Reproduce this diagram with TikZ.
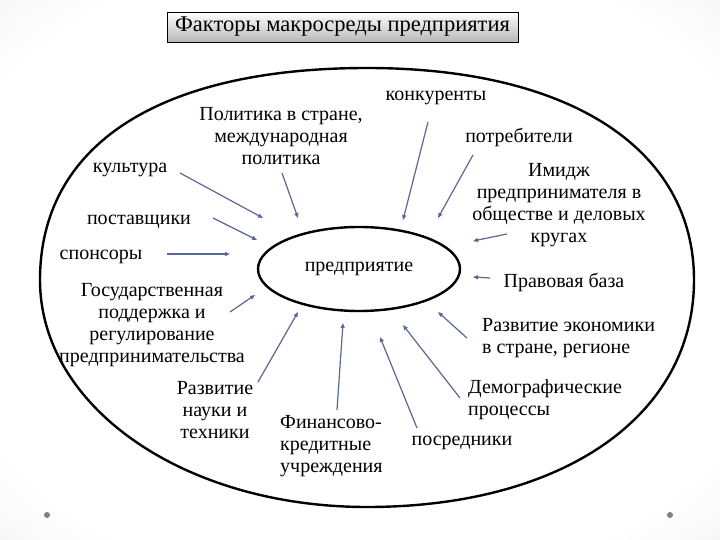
\documentclass[tikz,border=0pt]{standalone}
\usepackage{fontspec}
\setmainfont{Liberation Serif}
\usepackage{tikz}
\usetikzlibrary{arrows.meta, shapes.geometric}
\definecolor{my_arrowblue}{HTML}{5A6894}
\definecolor{my_bggray}{HTML}{C8C8C8}
\definecolor{my_titlegray}{HTML}{B8B8B8}
\pgfdeclareradialshading{my_slide}{\pgfpoint{0bp}{0bp}}{%
  color(0bp)=(white); color(30bp)=(white); color(50bp)=(my_bggray!55); color(71bp)=(my_bggray)}

\begin{document}
\begin{tikzpicture}[
    x=1pt, y=-1pt,
    factor/.style={font=\fontsize{20}{22}\selectfont, inner sep=0pt, align=center},
    factorarrow/.style={-{Triangle[length=5pt,width=4pt]}, my_arrowblue, line width=1.2pt},
]

% ── Slide background ─────────────────────────────────────────────────────────
\shade[shading=my_slide] (0,0) rectangle (720,540);
\useasboundingbox (0,0) rectangle (720,540);
\fill[gray] (47,515) circle (3pt);
\fill[gray] (670,515) circle (3pt);

% ── Title ────────────────────────────────────────────────────────────────────
\node[factor, font=\fontsize{22.5}{25}\selectfont, draw=black, line width=0.8pt,
      top color=white, bottom color=my_titlegray,
      minimum width=351pt, minimum height=30pt] (title) at (342.5,27)
    {Факторы макросреды предприятия};

% ── Environment (hand-drawn oval, fuller at the top) and the firm ────────────
\draw[line width=2.4pt]
    (40,280) .. controls (40,145) and (159,68) .. (367,68)
             .. controls (570,68) and (694,149) .. (694,280)
             .. controls (694,416) and (563,507) .. (367,507)
             .. controls (184,507) and (40,407) .. cycle;
\node[factor, draw, ellipse, line width=2.4pt, minimum width=202pt, minimum height=84pt]
    (predpr) at (359,269) {предприятие};

% ── Factors ──────────────────────────────────────────────────────────────────
\node[factor] (polit)  at (281,136) {Политика в стране,\\международная\\политика};
\node[factor] (kult)   at (130,170) {культура};
\node[factor] (postav) at (139,222) {поставщики};
\node[factor] (spons)  at (101,257) {спонсоры};
\node[factor] (gos)    at (152,325) {Государственная\\поддержка и\\регулирование\\предпринимательства};
\node[factor] (nauki)  at (215,410) {Развитие\\науки и\\техники};
\node[factor, align=left, anchor=west] (fin) at (280,446) {Финансово-\\кредитные\\учреждения};
\node[factor] (posred) at (462,443) {посредники};
\node[factor, align=left, anchor=west] (demogr) at (468,400) {Демографические\\процессы};
\node[factor, align=left, anchor=west] (ekon)   at (482,338) {Развитие экономики\\в стране, регионе};
\node[factor] (pravo)  at (564,282) {Правовая база};
\node[factor] (imidzh) at (559,205) {Имидж\\предпринимателя в\\обществе и деловых\\кругах};
\node[factor] (potreb) at (519,137) {потребители};
\node[factor] (konk)   at (436,98)  {конкуренты};

% ── Arrows towards the firm ──────────────────────────────────────────────────
\foreach \n/\sx/\sy/\ex/\ey in {kult/180/173/263/218, polit/282/173/298/218,
    postav/213/218/257/240, spons/167/254/230/254, gos/230/312/255/295,
    nauki/258/382/298/312, fin/337/410/343/323, posred/417/428/380/337,
    demogr/460/398/403/325, ekon/467/338/438/312, pravo/490/278/473/277,
    imidzh/507/234/473/241, potreb/473/155/438/218, konk/428/122/403/220} {
    \coordinate (\n-s) at (\sx,\sy);
    \coordinate (\n-e) at (\ex,\ey);
    \draw[factorarrow] (\n-s) -- (\n-e);
}

\end{tikzpicture}
\end{document}
